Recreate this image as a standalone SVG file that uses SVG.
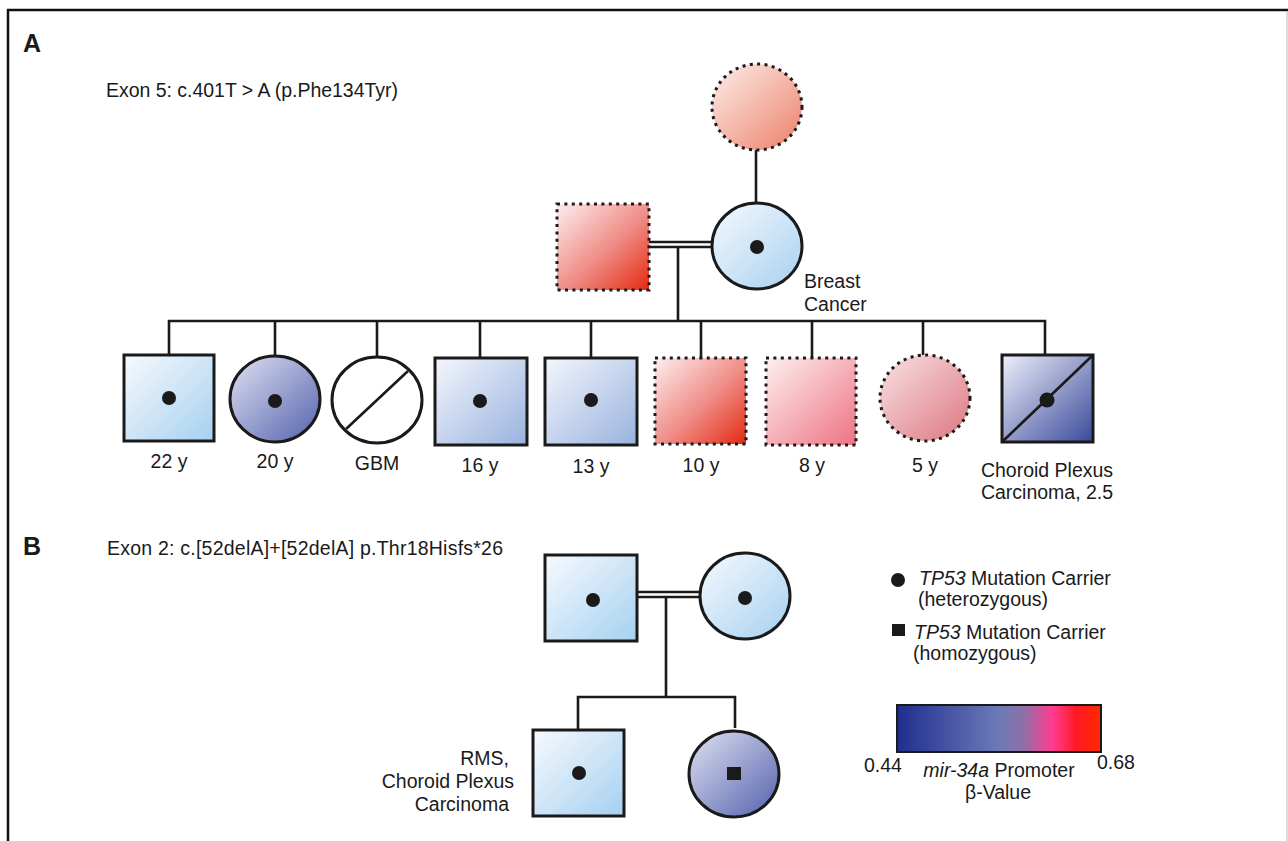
<svg xmlns="http://www.w3.org/2000/svg" width="1288" height="841" viewBox="0 0 1288 841">
<defs>
<linearGradient id="gPinkL" x1="0" y1="0" x2="1" y2="1"><stop offset="0" stop-color="#fdeeeb"/><stop offset="1" stop-color="#ec8068"/></linearGradient>
<linearGradient id="gRed" x1="0" y1="0" x2="1" y2="1"><stop offset="0" stop-color="#fdeeee"/><stop offset="0.55" stop-color="#ef8a84"/><stop offset="1" stop-color="#e52a10"/></linearGradient>
<linearGradient id="gPink" x1="0" y1="0" x2="1" y2="1"><stop offset="0" stop-color="#fdf0f0"/><stop offset="1" stop-color="#ee7282"/></linearGradient>
<linearGradient id="gPink5" x1="0" y1="0" x2="1" y2="1"><stop offset="0" stop-color="#f8e2e4"/><stop offset="1" stop-color="#dd7680"/></linearGradient>
<linearGradient id="gLBlue" x1="0" y1="0" x2="1" y2="1"><stop offset="0" stop-color="#f6fafe"/><stop offset="1" stop-color="#a6d0f0"/></linearGradient>
<linearGradient id="gMBlue" x1="0" y1="0" x2="1" y2="1"><stop offset="0" stop-color="#f4f6fc"/><stop offset="1" stop-color="#98b2de"/></linearGradient>
<linearGradient id="gPurple" x1="0" y1="0" x2="1" y2="1"><stop offset="0" stop-color="#e0e2f2"/><stop offset="1" stop-color="#5361ad"/></linearGradient>
<linearGradient id="gDBlue" x1="0" y1="0" x2="1" y2="1"><stop offset="0" stop-color="#eef0fa"/><stop offset="1" stop-color="#3a4a9a"/></linearGradient>
<linearGradient id="gBar" x1="0" y1="0" x2="1" y2="0"><stop offset="0" stop-color="#1f2e8e"/><stop offset="0.5" stop-color="#6c7ab8"/><stop offset="0.62" stop-color="#8e70a8"/><stop offset="0.76" stop-color="#ff3c92"/><stop offset="0.88" stop-color="#ff1a24"/><stop offset="1" stop-color="#ff2a00"/></linearGradient>
</defs>
<style>
.s{stroke:#1a1a1a;stroke-width:3}
.d{stroke:#1a1a1a;stroke-width:3;stroke-dasharray:3 4.4}
.ln{stroke:#1a1a1a;stroke-width:2.6;fill:none}
.t{font-family:"Liberation Sans",Arial,sans-serif;font-size:19.5px;fill:#1a1a1a}
.c{text-anchor:middle}
.e{text-anchor:end}
.h{font-family:"Liberation Sans",Arial,sans-serif;font-size:25px;font-weight:bold;fill:#1a1a1a}
.dot{fill:#1a1a1a}
</style>
<rect width="1288" height="841" fill="#ffffff"/>
<g id="frame">
<line x1="7" y1="10" x2="1288" y2="10" stroke="#111" stroke-width="2.5"/>
<line x1="8" y1="9" x2="8" y2="841" stroke="#111" stroke-width="2.5"/>
<line x1="1287" y1="11" x2="1287" y2="841" stroke="#cfcfcf" stroke-width="1.5"/>
</g>
<g id="titles">
<text class="h" x="23" y="52">A</text>
<text class="t" x="106" y="97" textLength="292">Exon 5: c.401T &gt; A (p.Phe134Tyr)</text>
<text class="h" x="23" y="555">B</text>
<text class="t" x="107" y="555" textLength="396">Exon 2: c.[52delA]+[52delA] p.Thr18Hisfs*26</text>
</g>
<g id="connectors">
<line class="ln" x1="756" y1="150" x2="756" y2="203"/>
<line class="ln" x1="649" y1="242" x2="712" y2="242" stroke-width="2.2"/>
<line class="ln" x1="649" y1="247" x2="712" y2="247" stroke-width="2.2"/>
<line class="ln" x1="678" y1="247" x2="678" y2="321"/>
<polyline class="ln" points="169,355 169,321 1045,321 1045,355"/>
<line class="ln" x1="275" y1="321" x2="275" y2="355"/>
<line class="ln" x1="377" y1="321" x2="377" y2="357"/>
<line class="ln" x1="480" y1="321" x2="480" y2="358"/>
<line class="ln" x1="591" y1="321" x2="591" y2="358"/>
<line class="ln" x1="701" y1="321" x2="701" y2="358"/>
<line class="ln" x1="812" y1="321" x2="812" y2="358"/>
<line class="ln" x1="923" y1="321" x2="923" y2="355"/>
<line class="ln" x1="637" y1="592" x2="700" y2="592" stroke-width="2.2"/>
<line class="ln" x1="637" y1="597" x2="700" y2="597" stroke-width="2.2"/>
<line class="ln" x1="666" y1="597" x2="666" y2="697"/>
<polyline class="ln" points="578,730 578,697 735,697 735,728"/>
</g>
<g id="grandmother">
<ellipse class="d" cx="757" cy="107" rx="45" ry="43" fill="url(#gPinkL)"/>
</g>
<g id="father">
<rect class="d" x="557" y="204" width="92" height="86" fill="url(#gRed)"/>
</g>
<g id="mother">
<ellipse class="s" cx="757" cy="246" rx="45" ry="43" fill="url(#gLBlue)"/>
<circle class="dot" cx="757" cy="247" r="7"/>
<text class="t" x="804" y="288">Breast</text>
<text class="t" x="804" y="311">Cancer</text>
</g>
<g id="child22">
<rect class="s" x="124" y="355" width="90" height="86" fill="url(#gLBlue)"/>
<circle class="dot" cx="169" cy="398" r="7"/>
<text class="t c" x="169" y="468">22 y</text>
</g>
<g id="child20">
<ellipse class="s" cx="275" cy="399" rx="45" ry="43" fill="url(#gPurple)"/>
<circle class="dot" cx="275" cy="401" r="7"/>
<text class="t c" x="275" y="468">20 y</text>
</g>
<g id="childGBM">
<ellipse class="s" cx="377" cy="400" rx="45" ry="43" fill="#ffffff"/>
<line class="ln" x1="346" y1="429" x2="408" y2="371"/>
<text class="t c" x="377" y="470">GBM</text>
</g>
<g id="child16">
<rect class="s" x="435" y="358" width="92" height="87" fill="url(#gMBlue)"/>
<circle class="dot" cx="480" cy="401" r="7"/>
<text class="t c" x="480" y="472">16 y</text>
</g>
<g id="child13">
<rect class="s" x="545" y="358" width="92" height="87" fill="url(#gMBlue)"/>
<circle class="dot" cx="591" cy="400" r="7"/>
<text class="t c" x="591" y="473">13 y</text>
</g>
<g id="child10">
<rect class="d" x="655" y="358" width="91" height="86" fill="url(#gRed)"/>
<text class="t c" x="701" y="472">10 y</text>
</g>
<g id="child8">
<rect class="d" x="766" y="358" width="90" height="87" fill="url(#gPink)"/>
<text class="t c" x="812" y="472">8 y</text>
</g>
<g id="child5">
<ellipse class="d" cx="925" cy="398" rx="45" ry="43" fill="url(#gPink5)"/>
<text class="t c" x="925" y="472">5 y</text>
</g>
<g id="childCPC">
<rect class="s" x="1002" y="355" width="91" height="87" fill="url(#gDBlue)"/>
<line class="ln" x1="1002" y1="442" x2="1093" y2="355"/>
<circle class="dot" cx="1047" cy="400" r="7.5"/>
<text class="t c" x="1047" y="477">Choroid Plexus</text>
<text class="t c" x="1047" y="499">Carcinoma, 2.5</text>
</g>
<g id="bFather">
<rect class="s" x="545" y="555" width="92" height="86" fill="url(#gLBlue)"/>
<circle class="dot" cx="593" cy="600" r="7"/>
</g>
<g id="bMother">
<ellipse class="s" cx="745" cy="596" rx="45" ry="43" fill="url(#gLBlue)"/>
<circle class="dot" cx="745" cy="598" r="7"/>
</g>
<g id="bSon">
<rect class="s" x="533" y="730" width="91" height="86" fill="url(#gLBlue)"/>
<circle class="dot" cx="579" cy="773" r="7"/>
<text class="t e" x="509" y="765">RMS,</text>
<text class="t e" x="514" y="788">Choroid Plexus</text>
<text class="t e" x="509" y="811">Carcinoma</text>
</g>
<g id="bDaughter">
<ellipse class="s" cx="734" cy="774" rx="45" ry="43" fill="url(#gPurple)"/>
<rect class="dot" x="727" y="767" width="14" height="13"/>
</g>
<g id="legend">
<circle class="dot" cx="898" cy="580" r="7"/>
<text class="t" x="919" y="585"><tspan font-style="italic">TP53</tspan> Mutation Carrier</text>
<text class="t" x="918" y="606">(heterozygous)</text>
<rect class="dot" x="892" y="624" width="13" height="12"/>
<text class="t" x="914" y="639"><tspan font-style="italic">TP53</tspan> Mutation Carrier</text>
<text class="t" x="913" y="660">(homozygous)</text>
</g>
<g id="colorbar">
<rect x="897" y="705" width="204" height="47" fill="url(#gBar)" stroke="#1a1a1a" stroke-width="2"/>
<text class="t" x="864" y="772">0.44</text>
<text class="t" x="1097" y="769">0.68</text>
<text class="t c" x="999" y="777"><tspan font-style="italic">mir-34a</tspan> Promoter</text>
<text class="t c" x="998" y="799">β-Value</text>
</g>
</svg>
